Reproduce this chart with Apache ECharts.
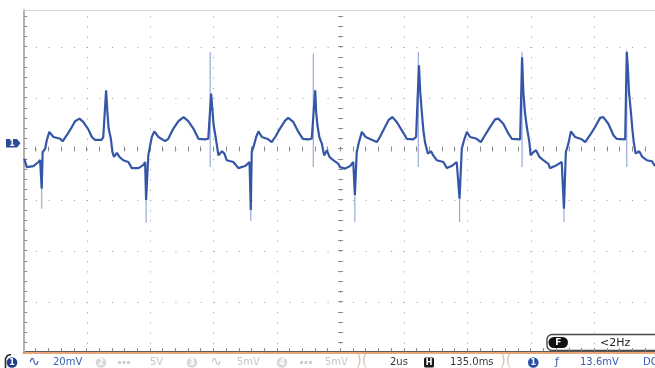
<!DOCTYPE html>
<html>
<head>
<meta charset="utf-8">
<script src="https://cdn.jsdelivr.net/npm/echarts@6/dist/echarts.min.js"></script>
<style>
  html, body { margin: 0; padding: 0; background: #ffffff; }
  #scope { width: 655px; height: 368px; }
</style>
</head>
<body>
<div id="scope"></div>
<script>
// Channel 1 capture: time in microseconds (0 = centre of screen), voltage in mV
const traceT = [
  -9.97, -9.89, -9.68, -9.52, -9.47, -9.42, -9.39, -9.31, -9.26, -9.18, -9.05, -8.84, -8.76, -8.63, -8.47, -8.37,
  -8.23, -8.11, -7.95, -7.84, -7.74, -7.53, -7.48, -7.39, -7.35, -7.31, -7.24, -7.19, -7.14, -7.05, -6.97, -6.85,
  -6.69, -6.58, -6.37, -6.21, -6.16, -6.13, -6.06, -6.00, -5.95, -5.87, -5.74, -5.53, -5.43, -5.27, -5.11, -4.95,
  -4.80, -4.64, -4.48, -4.27, -4.17, -4.08, -4.04, -4.00, -3.93, -3.85, -3.74, -3.66, -3.59, -3.38, -3.32, -3.22,
  -3.01, -2.87, -2.83, -2.80, -2.73, -2.66, -2.59, -2.48, -2.28, -2.17, -2.06, -1.91, -1.75, -1.65, -1.49, -1.33,
  -1.19, -1.01, -0.91, -0.80, -0.77, -0.73, -0.67, -0.59, -0.52, -0.43, -0.35, -0.23, -0.07, -0.02, 0.14, 0.30,
  0.40, 0.45, 0.51, 0.58, 0.67, 0.79, 0.98, 1.14, 1.24, 1.40, 1.51, 1.63, 1.77, 1.93, 2.09, 2.29,
  2.38, 2.47, 2.51, 2.56, 2.61, 2.66, 2.75, 2.85, 2.92, 3.03, 3.24, 3.35, 3.50, 3.66, 3.75, 3.82,
  3.89, 3.98, 4.08, 4.29, 4.42, 4.55, 4.71, 4.87, 4.97, 5.13, 5.29, 5.40, 5.66, 5.72, 5.76, 5.81,
  5.87, 5.95, 5.99, 6.08, 6.16, 6.27, 6.39, 6.55, 6.60, 6.76, 6.97, 7.04, 7.10, 7.18, 7.26, 7.39,
  7.60, 7.71, 7.86, 8.02, 8.18, 8.28, 8.44, 8.60, 8.70, 8.97, 9.02, 9.05, 9.09, 9.16, 9.20, 9.24,
  9.30, 9.41, 9.51, 9.65, 9.81, 9.91
];
const traceV = [
  -3.8, -7.1, -6.7, -5.1, -4.3, -15.6, -1.2, 0.1, 3.4, 6.7, 4.7, 4.0, 3.0, 5.4, 8.6, 10.9,
  11.9, 10.6, 7.7, 4.7, 3.6, 3.6, 4.7, 23.0, 14.5, 8.0, 4.0, -1.2, -3.1, -1.5, -3.1, -4.4,
  -5.1, -7.5, -7.5, -6.2, -5.1, -20.0, -2.5, 1.5, 4.7, 6.9, 4.7, 3.1, 4.0, 8.0, 10.9, 12.5,
  10.9, 8.0, 4.0, 3.8, 4.0, 21.7, 15.2, 9.3, 4.0, -2.5, -0.9, -1.8, -4.4, -5.1, -5.8, -7.5,
  -6.7, -5.1, -23.9, -1.2, 1.5, 4.7, 6.9, 4.7, 3.8, 2.7, 4.7, 8.0, 11.1, 12.2, 10.6, 6.7,
  4.0, 3.8, 4.0, 23.0, 14.5, 9.3, 4.7, 2.1, -2.5, -0.5, -3.1, -4.4, -5.8, -7.1, -7.7, -6.7,
  -5.1, -18.0, -1.2, 2.7, 6.7, 4.7, 3.6, 2.7, 4.7, 8.6, 11.3, 12.5, 10.6, 7.3, 4.0, 3.8,
  4.7, 32.8, 22.4, 14.5, 7.3, 2.7, -1.8, -0.9, -2.5, -4.4, -5.1, -7.5, -6.7, -5.1, -19.5, 0.1,
  3.4, 6.7, 4.7, 4.0, 2.7, 5.4, 8.6, 11.6, 11.9, 9.9, 6.0, 4.0, 3.8, 36.0, 22.4, 14.5,
  8.6, 2.7, -2.5, -1.2, -0.5, -3.1, -4.4, -5.8, -7.5, -6.7, -5.1, -23.4, -1.2, 2.1, 6.9, 4.7,
  3.8, 2.7, 5.4, 8.6, 12.2, 12.5, 9.9, 5.4, 4.0, 3.8, 38.0, 32.8, 22.4, 13.2, 7.3, 2.7,
  -1.8, -0.9, -3.1, -4.4, -4.8, -6.7
];

// Very narrow glitches, too fast for the trace to fill in: time, upper end, lower end (mV)
const glitchT  = [-9.42, -6.13, -4.11, -2.83, -0.86, 0.45, 2.45, 3.75, 5.72, 7.04, 9.02];
const glitchHi = [-15.6, -20.0, 38.0, -23.9, 37.4, -18.0, 38.0, -19.5, 38.0, -23.4, 38.7];
const glitchLo = [-23.4, -28.9, -7.1, -28.1, -7.1, -28.6, -7.1, -28.6, -7.1, -28.6, -7.1];

// Screen scales: 2 us/div horizontally, 20 mV/div vertically
const timeMin = -10, timeMax = 9.91, timeDiv = 2;
const voltMin = -80, voltMax = 54.5, voltDiv = 20;

// Graticule minor marks: five per division
const tickItems = [];
for (let k = 1; voltMin + k * voltDiv / 5 < voltMax; k++) {
  const v = voltMin + k * voltDiv / 5;
  tickItems.push([0, v], [1, v]);
}
for (let k = 1; timeMin + k * timeDiv / 5 < timeMax; k++) {
  const t = timeMin + k * timeDiv / 5;
  tickItems.push([2, t], [3, t]);
}

const chart = echarts.init(document.getElementById('scope'), null, { renderer: 'canvas' });

const crisp = (n) => Math.round(n - 0.5) + 0.5;

function renderTick(params, api) {
  const kind = api.value(0);
  const val = api.value(1);
  let x1, y1, x2, y2;
  if (kind === 0) {          // left edge
    const p = api.coord([timeMin, val]);
    x1 = p[0] + 1; x2 = p[0] + 4; y1 = y2 = crisp(p[1]);
  } else if (kind === 1) {   // centre vertical
    const p = api.coord([0, val]);
    x1 = p[0] - 2.5; x2 = p[0] + 2.5; y1 = y2 = crisp(p[1]);
  } else if (kind === 2) {   // centre horizontal
    const p = api.coord([val, 0]);
    x1 = x2 = crisp(p[0]); y1 = p[1] - 2.5; y2 = p[1] + 2.5;
  } else {                   // bottom edge
    const p = api.coord([val, voltMin]);
    x1 = x2 = crisp(p[0]); y1 = p[1] - 5; y2 = p[1] - 2;
  }
  return { type: 'line', shape: { x1, y1, x2, y2 }, style: { stroke: '#8c8c8c', lineWidth: 1 } };
}

function renderGlitch(params, api) {
  const a = api.coord([api.value(0), api.value(1)]);
  const b = api.coord([api.value(0), api.value(2)]);
  return { type: 'line', shape: { x1: a[0], y1: a[1], x2: b[0], y2: b[1] },
           style: { stroke: '#98abdb', lineWidth: 1.2 } };
}

const statusFont = '10px "DejaVu Sans"';
const blue = '#3a5fb5';
const grey = '#c6c6c6';

function badge(cx, label, fill) {
  return [
    { type: 'circle', shape: { cx, cy: 362.5, r: 5.3 }, style: { fill } },
    { type: 'text', x: cx, y: 362.8, style: { text: label, fill: '#ffffff', font: 'bold 8px "DejaVu Sans"', align: 'center', verticalAlign: 'middle' } }
  ];
}
function label(x, text, fill) {
  return { type: 'text', x, y: 362.5, style: { text, fill, font: statusFont, align: 'left', verticalAlign: 'middle' } };
}
function dcMark(x) {
  return { type: 'line', shape: { x1: x, y1: 362.5, x2: x + 12, y2: 362.5 },
           style: { stroke: '#cfcfcf', lineWidth: 3, lineDash: [3, 1.5] } };
}
function gap(x) {
  return { type: 'text', x, y: 361, style: { text: ')(', fill: '#d8c5b2', font: '15px "DejaVu Sans"', align: 'left', verticalAlign: 'middle' } };
}

const graphics = [
  // channel 1 ground marker
  { type: 'polygon', shape: { points: [[6, 139], [17, 139], [20.5, 143.3], [17, 147.6], [6, 147.6]] }, style: { fill: '#2b4c9b' } },
  { type: 'text', x: 12, y: 143.6, style: { text: '1', fill: '#ffffff', font: 'bold 8px "DejaVu Sans"', align: 'center', verticalAlign: 'middle' } },
  // bottom frame of the graticule
  { type: 'line', shape: { x1: 23, y1: 351.5, x2: 655, y2: 351.5 }, style: { stroke: '#5c5c5c', lineWidth: 1 } },
  // status bar
  { type: 'polyline', shape: { points: [[11, 354.5], [7.5, 355.5], [5.5, 358.5], [5.5, 368]] }, style: { stroke: '#2a2a2a', lineWidth: 1.6, fill: null } },
  ...badge(12, '1', '#1e3c8c'),
  { type: 'text', x: 34, y: 362, style: { text: '∿', fill: blue, font: '14px "DejaVu Sans"', align: 'center', verticalAlign: 'middle' } },
  label(53, '20mV', blue),
  ...badge(101, '2', '#d9d9d9'),
  dcMark(118),
  label(150, '5V', grey),
  ...badge(192, '3', '#d9d9d9'),
  { type: 'text', x: 216, y: 362, style: { text: '∿', fill: grey, font: '14px "DejaVu Sans"', align: 'center', verticalAlign: 'middle' } },
  label(237, '5mV', grey),
  ...badge(282, '4', '#d9d9d9'),
  dcMark(300),
  label(325, '5mV', grey),
  gap(356),
  label(390, '2us', '#3a3a3a'),
  { type: 'rect', shape: { x: 424, y: 357.5, width: 10, height: 10, r: 1.5 }, style: { fill: '#1c1c1c' } },
  { type: 'text', x: 429, y: 362.8, style: { text: 'H', fill: '#ffffff', font: 'bold 8px "DejaVu Sans"', align: 'center', verticalAlign: 'middle' } },
  label(450, '135.0ms', '#3a3a3a'),
  gap(500),
  ...badge(533.3, '1', '#2a4ea6'),
  { type: 'text', x: 555, y: 362.5, style: { text: 'ƒ', fill: blue, font: '11px "DejaVu Sans"', align: 'left', verticalAlign: 'middle' } },
  label(580, '13.6mV', blue),
  label(643, 'DC', blue),
  // acquisition frequency readout
  { type: 'rect', shape: { x: 547, y: 334.5, width: 115, height: 16, r: 5 }, style: { fill: '#ffffff', stroke: '#4a4a4a', lineWidth: 1.4 } },
  { type: 'rect', shape: { x: 548.5, y: 337, width: 19.5, height: 11, r: 5.5 }, style: { fill: '#111111' } },
  { type: 'text', x: 558.3, y: 342.8, style: { text: 'F', fill: '#ffffff', font: 'bold 9px "DejaVu Sans"', align: 'center', verticalAlign: 'middle' } },
  { type: 'text', x: 600, y: 342.8, style: { text: '<2Hz', fill: '#222222', font: '11px "DejaVu Sans"', align: 'left', verticalAlign: 'middle' } }
];

const option = {
  animation: false,
  backgroundColor: '#ffffff',
  grid: { left: 23.3, right: 0, top: 10, bottom: 15, containLabel: false },
  xAxis: [
    {
      type: 'value', min: timeMin, max: timeMax, interval: timeDiv, position: 'bottom',
      axisLine: { show: true, onZero: false, lineStyle: { color: '#e48a4e', width: 1.5 } },
      axisTick: { show: false }, axisLabel: { show: false },
      splitLine: { show: true, showMinLine: false, showMaxLine: false,
                   lineStyle: { color: '#9c9c9c', width: 1, type: [1, 9.2], dashOffset: 3.8 } }
    },
    {
      type: 'value', min: timeMin, max: timeMax, position: 'top',
      axisLine: { show: true, onZero: false, lineStyle: { color: '#d3d3d3', width: 1 } },
      axisTick: { show: false }, axisLabel: { show: false }, splitLine: { show: false }
    }
  ],
  yAxis: {
    type: 'value', min: voltMin, max: voltMax, interval: voltDiv,
    axisLine: { show: true, onZero: false, lineStyle: { color: '#bcaeaa', width: 2 } },
    axisTick: { show: false }, axisLabel: { show: false },
    splitLine: { show: true, showMinLine: false, showMaxLine: false,
                 lineStyle: { color: '#9c9c9c', width: 1, type: [1, 11.68] } }
  },
  graphic: graphics,
  series: [
    {
      name: 'graticule', type: 'custom', silent: true, clip: false,
      renderItem: renderTick, data: tickItems, z: 1
    },
    {
      name: 'glitch', type: 'custom', silent: true,
      renderItem: renderGlitch,
      data: glitchT.map((t, i) => [t, glitchHi[i], glitchLo[i]]),
      encode: { x: 0, y: [1, 2] }, z: 2
    },
    {
      name: 'CH1', type: 'line', showSymbol: false, silent: true,
      data: traceT.map((t, i) => [t, traceV[i]]),
      lineStyle: { color: '#3556a6', width: 2.2 },
      z: 3
    }
  ]
};

chart.setOption(option);
</script>
</body>
</html>
